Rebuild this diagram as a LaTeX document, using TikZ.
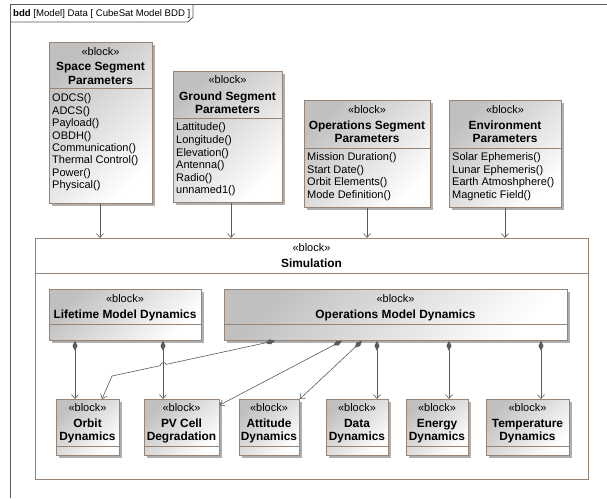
\documentclass[tikz,border=0pt]{standalone}
\usepackage{fontspec}
\setmainfont{Liberation Sans}
\usetikzlibrary{arrows.meta,shadows}

\definecolor{bddcolor0000}{RGB}{255,255,255}
\definecolor{bddcolor0001}{RGB}{90,90,90}
\definecolor{bddcolor0002}{RGB}{150,133,118}
\definecolor{bddcolor0003}{RGB}{192,192,192}
\definecolor{bddcolor0004}{RGB}{90,90,90}
\definecolor{bddcolor0005}{RGB}{175,175,175}

\begin{document}
\begin{tikzpicture}[yscale=-1
,framestyle/.style={color=bddcolor0001,line width=0.8pt}
,blockbox/.style={anchor=north west,inner sep=0pt,draw=bddcolor0002,line width=0.8pt,top color=bddcolor0003,bottom color=bddcolor0000,shading angle=45,drop shadow={shadow xshift=2.5pt,shadow yshift=-2.5pt,fill=bddcolor0005,opacity=1}}
,simbox/.style={anchor=north west,inner sep=0pt,draw=bddcolor0002,line width=0.8pt,fill=bddcolor0000}
,partline/.style={color=bddcolor0002,line width=0.8pt}
,assoc/.style={color=bddcolor0004,line width=0.6pt,-{Straight Barb[length=4pt,width=7pt]}}
,compo/.style={color=bddcolor0004,line width=0.6pt,{Diamond[length=10pt,width=5pt]}-{Straight Barb[length=4pt,width=7pt]}}
,stereo/.style={inner sep=0pt,text height=7.9pt,text depth=0pt,font=\fontsize{11}{12}\selectfont}
,btitle/.style={inner sep=0pt,text height=8.5pt,text depth=0pt,font=\fontsize{11.9}{14}\selectfont\bfseries}
,attr/.style={anchor=west,inner sep=0pt,text height=7.9pt,text depth=0pt,font=\fontsize{11}{12}\selectfont}
]
\path[fill=bddcolor0000] (0pt,0pt) rectangle (607pt,498pt);
\useasboundingbox (0pt,0pt) rectangle (607pt,498pt);
% frame and tab
\draw[framestyle] (607pt,4pt) -- (10pt,4pt) -- (10pt,498pt);
\draw[framestyle] (10pt,22pt) -- (188pt,22pt) -- (193pt,17pt) -- (193pt,4pt);
\node[anchor=west,inner sep=0pt,text height=7pt,text depth=0pt,font=\fontsize{9.6}{11}\selectfont] (hdr) at (13pt,13pt) {\textbf{bdd} [Model] Data [ CubeSat Model BDD ]};
% parameter blocks
\node[blockbox,minimum width=103pt,minimum height=161pt] (ssp) at (49pt,42pt) {};
\draw[partline] (ssp.west |- 0,88pt) -- (ssp.east |- 0,88pt);
\node[stereo] (ssp-st) at (100.5pt,52pt) {«block»};
\node[btitle] (ssp-t1) at (100.5pt,66.5pt) {Space Segment};
\node[btitle] (ssp-t2) at (100.5pt,80pt) {Parameters};
\node[attr] (ssp-a1) at (52pt,98pt) {ODCS()};
\node[attr] (ssp-a2) at (52pt,110.4pt) {ADCS()};
\node[attr] (ssp-a3) at (52pt,122.8pt) {Payload()};
\node[attr] (ssp-a4) at (52pt,135.2pt) {OBDH()};
\node[attr] (ssp-a5) at (52pt,147.6pt) {Communication()};
\node[attr] (ssp-a6) at (52pt,160pt) {Thermal Control()};
\node[attr] (ssp-a7) at (52pt,172.4pt) {Power()};
\node[attr] (ssp-a8) at (52pt,184.8pt) {Physical()};
\node[blockbox,minimum width=109pt,minimum height=131pt] (gsp) at (173pt,71pt) {};
\draw[partline] (gsp.west |- 0,118pt) -- (gsp.east |- 0,118pt);
\node[stereo] (gsp-st) at (227.5pt,80pt) {«block»};
\node[btitle] (gsp-t1) at (227.5pt,96pt) {Ground Segment};
\node[btitle] (gsp-t2) at (227.5pt,109pt) {Parameters};
\node[attr] (gsp-a1) at (176pt,127pt) {Lattitude()};
\node[attr] (gsp-a2) at (176pt,139.6pt) {Longitude()};
\node[attr] (gsp-a3) at (176pt,152.2pt) {Elevation()};
\node[attr] (gsp-a4) at (176pt,164.8pt) {Antenna()};
\node[attr] (gsp-a5) at (176pt,177.4pt) {Radio()};
\node[attr] (gsp-a6) at (176pt,190pt) {unnamed1()};
\node[blockbox,minimum width=126pt,minimum height=107pt] (osp) at (304pt,100pt) {};
\draw[partline] (osp.west |- 0,148pt) -- (osp.east |- 0,148pt);
\node[stereo] (osp-st) at (367pt,110pt) {«block»};
\node[btitle] (osp-t1) at (367pt,125pt) {Operations Segment};
\node[btitle] (osp-t2) at (367pt,138pt) {Parameters};
\node[attr] (osp-a1) at (307pt,157pt) {Mission Duration()};
\node[attr] (osp-a2) at (307pt,169.4pt) {Start Date()};
\node[attr] (osp-a3) at (307pt,181.8pt) {Orbit Elements()};
\node[attr] (osp-a4) at (307pt,194.2pt) {Mode Definition()};
\node[blockbox,minimum width=112pt,minimum height=107pt] (envp) at (449pt,100pt) {};
\draw[partline] (envp.west |- 0,148pt) -- (envp.east |- 0,148pt);
\node[stereo] (envp-st) at (505pt,110pt) {«block»};
\node[btitle] (envp-t1) at (505pt,125pt) {Environment};
\node[btitle] (envp-t2) at (505pt,138pt) {Parameters};
\node[attr] (envp-a1) at (452pt,157pt) {Solar Ephemeris()};
\node[attr] (envp-a2) at (452pt,169.4pt) {Lunar Ephemeris()};
\node[attr] (envp-a3) at (452pt,181.8pt) {Earth Atmoshphere()};
\node[attr] (envp-a4) at (452pt,194.2pt) {Magnetic Field()};
% simulation block
\node[simbox,minimum width=553pt,minimum height=241pt] (sim) at (35pt,238pt) {};
\draw[partline] (sim.west |- 0,273pt) -- (sim.east |- 0,273pt);
\node[stereo] (sim-st) at (311.5pt,248pt) {«block»};
\node[btitle] (sim-t1) at (311.5pt,263pt) {Simulation};
\draw[assoc] (ssp.south -| 100pt,0) -- (sim.north -| 100pt,0);
\draw[assoc] (gsp.south -| 231pt,0) -- (sim.north -| 231pt,0);
\draw[assoc] (osp.south -| 367pt,0) -- (sim.north -| 367pt,0);
\draw[assoc] (envp.south -| 505pt,0) -- (sim.north -| 505pt,0);
% model dynamics
\node[blockbox,minimum width=152pt,minimum height=51pt] (lmd) at (49pt,289pt) {};
\draw[partline] (lmd.west |- 0,324pt) -- (lmd.east |- 0,324pt);
\node[stereo] (lmd-st) at (125pt,299pt) {«block»};
\node[btitle] (lmd-t1) at (125pt,314pt) {Lifetime Model Dynamics};
\node[blockbox,minimum width=343pt,minimum height=51pt] (omd) at (224pt,289pt) {};
\draw[partline] (omd.west |- 0,324pt) -- (omd.east |- 0,324pt);
\node[stereo] (omd-st) at (395.5pt,299pt) {«block»};
\node[btitle] (omd-t1) at (395.5pt,314.5pt) {Operations Model Dynamics};
% parts
\node[blockbox,minimum width=63pt,minimum height=56pt] (orbit) at (56pt,399pt) {};
\draw[partline] (orbit.west |- 0,446pt) -- (orbit.east |- 0,446pt);
\node[stereo] (orbit-st) at (87.5pt,408pt) {«block»};
\node[btitle] (orbit-t1) at (87.5pt,423pt) {Orbit};
\node[btitle] (orbit-t2) at (87.5pt,436pt) {Dynamics};
\node[blockbox,minimum width=75pt,minimum height=56pt] (pvcell) at (144pt,399pt) {};
\draw[partline] (pvcell.west |- 0,446pt) -- (pvcell.east |- 0,446pt);
\node[stereo] (pvcell-st) at (181.5pt,408pt) {«block»};
\node[btitle] (pvcell-t1) at (181.5pt,423pt) {PV Cell};
\node[btitle] (pvcell-t2) at (181.5pt,436pt) {Degradation};
\node[blockbox,minimum width=60pt,minimum height=56pt] (attdyn) at (239pt,399pt) {};
\draw[partline] (attdyn.west |- 0,446pt) -- (attdyn.east |- 0,446pt);
\node[stereo] (attdyn-st) at (269pt,408pt) {«block»};
\node[btitle] (attdyn-t1) at (269pt,423pt) {Attitude};
\node[btitle] (attdyn-t2) at (269pt,436pt) {Dynamics};
\node[blockbox,minimum width=62pt,minimum height=56pt] (datadyn) at (326pt,399pt) {};
\draw[partline] (datadyn.west |- 0,446pt) -- (datadyn.east |- 0,446pt);
\node[stereo] (datadyn-st) at (357pt,408pt) {«block»};
\node[btitle] (datadyn-t1) at (357pt,423pt) {Data};
\node[btitle] (datadyn-t2) at (357pt,436pt) {Dynamics};
\node[blockbox,minimum width=62pt,minimum height=56pt] (energy) at (406pt,399pt) {};
\draw[partline] (energy.west |- 0,446pt) -- (energy.east |- 0,446pt);
\node[stereo] (energy-st) at (437pt,408pt) {«block»};
\node[btitle] (energy-t1) at (437pt,423pt) {Energy};
\node[btitle] (energy-t2) at (437pt,436pt) {Dynamics};
\node[blockbox,minimum width=83pt,minimum height=56pt] (tempdyn) at (486pt,399pt) {};
\draw[partline] (tempdyn.west |- 0,446pt) -- (tempdyn.east |- 0,446pt);
\node[stereo] (tempdyn-st) at (527.5pt,408pt) {«block»};
\node[btitle] (tempdyn-t1) at (527.5pt,423pt) {Temperature};
\node[btitle] (tempdyn-t2) at (527.5pt,436pt) {Dynamics};
% composition links
\draw[compo] (lmd.south -| 75pt,0) -- (orbit.north -| 75pt,0);
\draw[compo] (lmd.south -| 163pt,0) -- (pvcell.north -| 163pt,0);
\draw[compo] (omd.south -| 275pt,0) -- (166pt,364.4pt) .. controls (165.5pt,361.2pt) and (160.5pt,362.4pt) .. (160pt,365.7pt) -- (112pt,376pt) -- (orbit.north -| 102pt,0);
\draw[compo] (omd.south -| 342pt,0) -- (pvcell.east |- 0,405pt);
\draw[compo] (omd.south -| 362pt,0) -- (attdyn.north east);
\draw[compo] (omd.south -| 377pt,0) -- (datadyn.north -| 377pt,0);
\draw[compo] (omd.south -| 449pt,0) -- (energy.north -| 449pt,0);
\draw[compo] (omd.south -| 541pt,0) -- (tempdyn.north -| 541pt,0);
\end{tikzpicture}
\end{document}
